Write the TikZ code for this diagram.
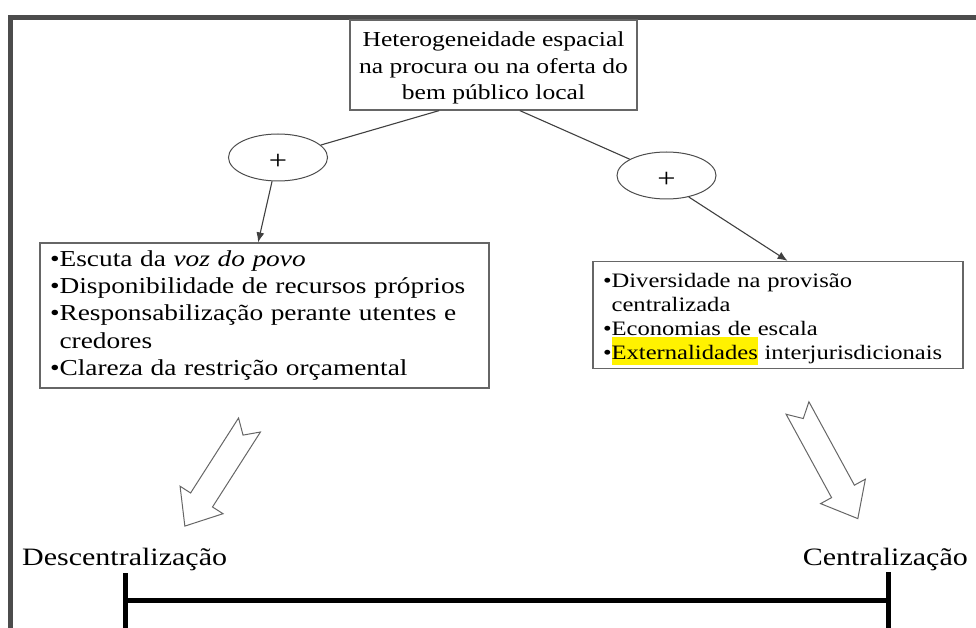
\documentclass[tikz,border=0pt]{standalone}
\usepackage{fontspec}
\setmainfont{Liberation Serif}[FakeStretch=1.2]
\usepackage{tikz}
\usetikzlibrary{positioning, shapes, arrows.meta}

\newcommand{\yellowmark}[1]{{\fboxsep=0pt\colorbox{yellow}{\rule[-6pt]{0pt}{28pt}#1}}}

\begin{document}
\begin{tikzpicture}[
    x=1pt, y=-1pt,
    topbox/.style={rectangle, draw=gray!80!black, line width=1.2pt, minimum width=287pt, minimum height=90pt, align=center, font=\fontsize{21.3}{26.5}\selectfont},
    listbox/.style={rectangle, draw=gray!80!black, line width=1.2pt, align=left, inner xsep=10pt},
    plus/.style={ellipse, draw=black!70, line width=1pt, minimum width=99pt, minimum height=47pt, inner sep=0pt, font=\fontsize{27}{27}\selectfont},
    link/.style={draw=black!75, line width=1.1pt},
    linkarrow/.style={link, -{Latex[length=10pt, width=8pt]}},
    bigarrow/.style={draw=black!60, line width=1pt, fill=white, line join=miter},
    scaleline/.style={line width=5pt},
    endlabel/.style={inner sep=0pt, font=\fontsize{25}{25}\selectfont},
    outerframe/.style={draw=black!70, line width=5pt, line join=miter}
]
\useasboundingbox (0,0) rectangle (976,628);

% Frame
\draw[outerframe] (10.5,628) -- (10.5,17.5) -- (976,17.5);

% Boxes
\node[topbox] (hetero) at (493.5,65) {\rule{0pt}{21.5pt}Heterogeneidade espacial\\na procura ou na oferta do\\bem público local};
\node[listbox, text width=429pt, minimum height=145pt, font=\fontsize{22.8}{27.3}\selectfont] (desc) at (264.5,315.5)
    {\textbullet Escuta da \textit{voz do povo}\\
     \textbullet Disponibilidade de recursos próprios\\
     \textbullet Responsabilização perante utentes e\\
     \hphantom{\textbullet}credores\\
     \textbullet Clareza da restrição orçamental};
\node[listbox, text width=350pt, minimum height=102pt, font=\fontsize{20.5}{23.8}\selectfont] (cent) at (778,315)
    {\rule{0pt}{23pt}\textbullet Diversidade na provisão\\
     \hphantom{\textbullet}centralizada\\
     \textbullet Economias de escala\\
     \textbullet\yellowmark{Externalidades}~interjurisdicionais};

% Ellipses
\node[plus] (lplus) at (278,157.5) {\raisebox{-4pt}[\height][\depth]{+}};
\node[plus] (rplus) at (666.5,175.5) {\raisebox{-4pt}[\height][\depth]{+}};

% Lines
\draw[link] (hetero.220) -- (lplus);
\draw[link] (hetero.300) -- (rplus);
\draw[linkarrow] (lplus.256) -- (desc.95);
\draw[linkarrow] (rplus.-44) -- (cent.80);

% Hollow arrows
\foreach \x/\y/\a/\l in {249.5/425/237.4/120, 797.5/408/-61.4/126}
{
  \begin{scope}[shift={(\x,\y)}, rotate=\a]
    \draw[bigarrow] (0,13) -- ({\l-31},13) -- ({\l-31},25.5) -- (\l,0) -- ({\l-31},-25.5) -- ({\l-31},-13) -- (0,-13) -- (12,0) -- cycle;
  \end{scope}
}

% Scale
\node[endlabel, anchor=base west] (desclabel) at (22,565) {Descentralização};
\node[endlabel, anchor=base east] (centlabel) at (968,565) {Centralização};
\coordinate (lefttick) at (125,600);
\coordinate (righttick) at (888,600);
\draw[scaleline] (lefttick) -- (righttick);
\draw[scaleline] (125,573) -- (125,632);
\draw[scaleline] (888,572) -- (888,632);

\end{tikzpicture}
\end{document}
